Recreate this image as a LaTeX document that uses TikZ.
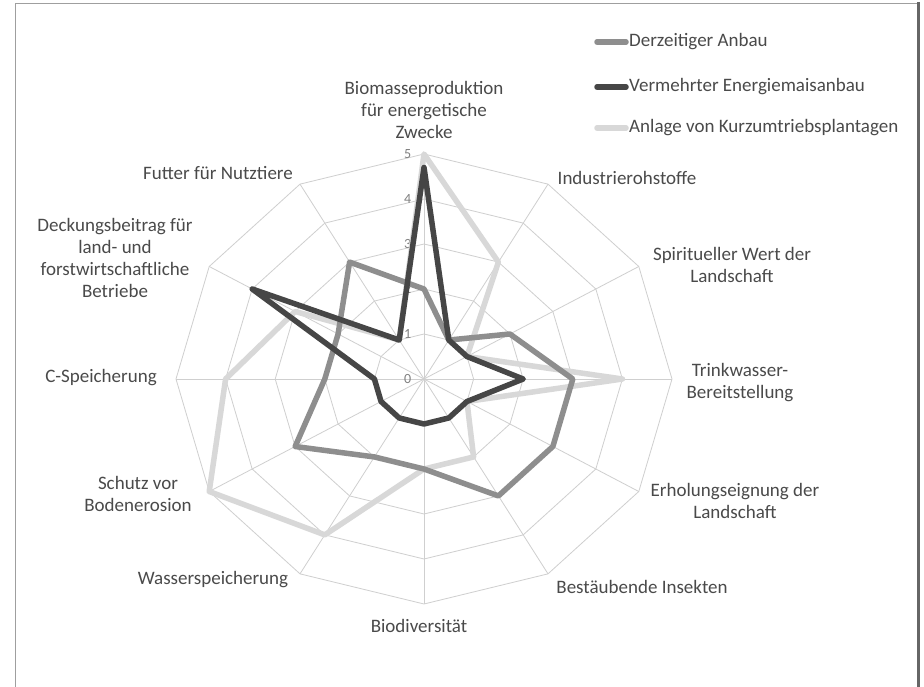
\documentclass[tikz,border=0pt]{standalone}
\usepackage{fontspec}
\setmainfont{Carlito}
\definecolor{gridgray}{HTML}{CFCFCF}
\definecolor{txtgray}{HTML}{4A4A4A}
\definecolor{anbau}{HTML}{8E8E8E}
\definecolor{energiemais}{HTML}{464646}
\definecolor{kurzumtrieb}{HTML}{D8D8D8}
\tikzset{
  axislabel/.style={text=txtgray,align=center,inner sep=0pt,font=\fontsize{19}{22}\selectfont},
  ticklabel/.style={text=gray,inner sep=0pt,font=\fontsize{14}{14}\selectfont},
  series/.style={line width=5.5pt,line join=round,line cap=round},
  gridline/.style={draw=gridgray,line width=0.8pt}
}
\begin{document}
\begin{tikzpicture}[x=1pt,y=1pt]
		\useasboundingbox (0,0) rectangle (924,686);
		\fill[white] (0,0) rectangle (924,686);
		%Frame
		\draw[gray!75,line width=1pt] (15,-2)--(15,682)--(917,682);
		\draw[black!60,line width=3pt] (918.5,684)--(918.5,-2);
		%Chart
		\begin{scope}[shift={(424,307)},xscale=49.6,yscale=45]
		%Grid
		\foreach \r in {1,...,5}
			\draw[gridline] (90:\r) \foreach \a in {60,30,...,-240} {--(\a:\r)} --cycle;
		\foreach \a in {90,60,...,-240}
			\draw[gridline] (0,0)--(\a:5);
		\foreach \r in {0,...,5}
			\node[ticklabel] (tick\r) at (-0.33,\r) {\r};
		%Anlage von Kurzumtriebsplantagen
		\draw[series,kurzumtrieb] (90:5)--(60:3)--(30:1)--(0:4)--(-30:1)--(-60:2)--(-90:2)--(-120:4)--(-150:5)--(180:4)--(150:3)--(120:1)--cycle;
		%Derzeitiger Anbau
		\draw[series,anbau] (90:2)--(60:1)--(30:2)--(0:3)--(-30:3)--(-60:3)--(-90:2)--(-120:2)--(-150:3)--(180:2)--(150:2)--(120:3)--cycle;
		%Vermehrter Energiemaisanbau
		\draw[series,energiemais] (90:4.7)--(60:1)--(30:1)--(0:2)--(-30:1)--(-60:1)--(-90:1)--(-120:1)--(-150:1)--(180:1)--(150:4)--(120:1)--cycle;
		\end{scope}
		%Axis labels
		\node[axislabel] (biomasse) at (424,576) {Biomasseproduktion\\für energetische\\Zwecke};
		\node[axislabel] (industrie) at (627,508) {Industrierohstoffe};
		\node[axislabel] (spirituell) at (732,421) {Spiritueller Wert der\\Landschaft};
		\node[axislabel] (trinkwasser) at (740,303) {Trinkwasser-\\Bereitstellung};
		\node[axislabel] (erholung) at (735,185) {Erholungseignung der\\Landschaft};
		\node[axislabel] (insekten) at (642,99) {Bestäubende Insekten};
		\node[axislabel] (biodiv) at (419,60) {Biodiversität};
		\node[axislabel] (wasser) at (213,106) {Wasserspeicherung};
		\node[axislabel] (erosion) at (138,192) {Schutz vor\\Bodenerosion};
		\node[axislabel] (cspeicher) at (101,308) {C-Speicherung};
		\node[axislabel] (deckung) at (115,428) {Deckungsbeitrag für\\land- und\\forstwirtschaftliche\\Betriebe};
		\node[axislabel] (futter) at (218,513) {Futter für Nutztiere};
		%Legend
		\node[axislabel,anchor=west] (legAnbau) at (629,644) {Derzeitiger Anbau};
		\node[axislabel,anchor=west] (legMais) at (629,599) {Vermehrter Energiemaisanbau};
		\node[axislabel,anchor=west] (legKurz) at (629,558) {Anlage von Kurzumtriebsplantagen};
		\coordinate (startAnbau) at (597,644);
		\coordinate (startMais) at (597,599);
		\coordinate (startKurz) at (597,558);
		\draw[series,anbau] (startAnbau)--([xshift=-3pt]legAnbau.west);
		\draw[series,energiemais] (startMais)--([xshift=-3pt]legMais.west);
		\draw[series,kurzumtrieb] (startKurz)--([xshift=-3pt]legKurz.west);
\end{tikzpicture}
\end{document}
